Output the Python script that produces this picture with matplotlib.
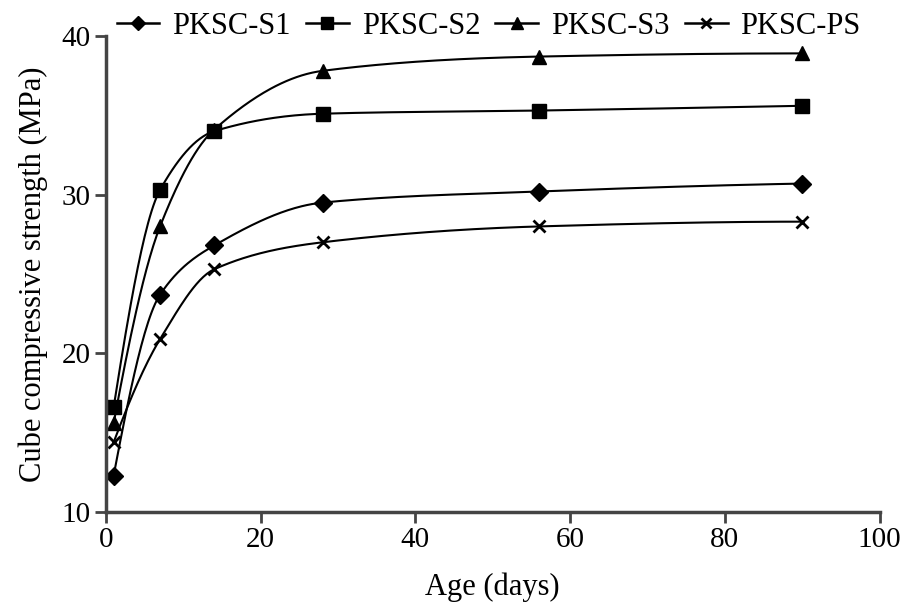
import numpy as np
import matplotlib
matplotlib.use("Agg")
import matplotlib.pyplot as plt
from matplotlib.lines import Line2D

# data
age = [1, 7, 14, 28, 56, 90]
s1 = [12.3, 23.7, 26.8, 29.5, 30.2, 30.7]
s2 = [16.6, 30.3, 34.0, 35.1, 35.3, 35.6]
s3 = [15.6, 28.0, 34.1, 37.8, 38.7, 38.9]
ps = [14.4, 20.9, 25.3, 27.0, 28.0, 28.3]

series = [("PKSC-S1", s1, "D", 9),
          ("PKSC-S2", s2, "s", 10),
          ("PKSC-S3", s3, "^", 10),
          ("PKSC-PS", ps, "x", 9)]


def pchip(x, y, xn):
    # monotone cubic (Fritsch-Carlson) just for a smooth line through the points
    x = np.asarray(x, float)
    y = np.asarray(y, float)
    h = np.diff(x)
    d = np.diff(y) / h
    n = len(x)
    m = np.zeros(n)
    for k in range(1, n - 1):
        if d[k - 1] * d[k] > 0:
            w1 = 2 * h[k] + h[k - 1]
            w2 = h[k] + 2 * h[k - 1]
            m[k] = (w1 + w2) / (w1 / d[k - 1] + w2 / d[k])
    m[0] = ((2 * h[0] + h[1]) * d[0] - h[0] * d[1]) / (h[0] + h[1])
    if np.sign(m[0]) != np.sign(d[0]):
        m[0] = 0
    m[-1] = ((2 * h[-1] + h[-2]) * d[-1] - h[-1] * d[-2]) / (h[-1] + h[-2])
    if np.sign(m[-1]) != np.sign(d[-1]):
        m[-1] = 0
    idx = np.clip(np.searchsorted(x, xn) - 1, 0, n - 2)
    t = (xn - x[idx]) / h[idx]
    h00 = 2 * t**3 - 3 * t**2 + 1
    h10 = t**3 - 2 * t**2 + t
    h01 = -2 * t**3 + 3 * t**2
    h11 = t**3 - t**2
    return h00 * y[idx] + h10 * h[idx] * m[idx] + h01 * y[idx + 1] + h11 * h[idx] * m[idx + 1]


plt.rcParams["font.family"] = ["Liberation Serif", "DejaVu Serif"]

fig = plt.figure(figsize=(9.05, 6.09), dpi=100)
ax = fig.add_axes([0.117, 0.159, 0.855, 0.782])

xs = np.linspace(age[0], age[-1], 400)
handles = []
for name, vals, mk, ms in series:
    ax.plot(xs, pchip(age, vals, xs), color="black", lw=1.5)
    ax.plot(age, vals, ls="none", marker=mk, ms=ms, color="black",
            mew=2 if mk == "x" else 1)
    handles.append(Line2D([], [], color="black", lw=1.8, marker=mk, ms=ms - 2,
                          mew=2 if mk == "x" else 1, label=name))

ax.set_xlim(0, 100)
ax.set_ylim(10, 40)
ax.set_xticks([0, 20, 40, 60, 80, 100])
ax.set_yticks([10, 20, 30, 40])
ax.spines["top"].set_visible(False)
ax.spines["right"].set_visible(False)
for sp in ("left", "bottom"):
    ax.spines[sp].set_linewidth(2.5)
    ax.spines[sp].set_color("#444444")
ax.tick_params(direction="out", length=8, width=2, color="#444444", labelsize=21, pad=3)
ax.set_xlabel("Age (days)", fontsize=22, labelpad=14)
ax.set_ylabel("Cube compressive strength (MPa)", fontsize=22, labelpad=10)

fig.legend(handles=handles, loc="center left", bbox_to_anchor=(0.112, 0.957),
           ncol=4, frameon=False, borderpad=0, handlelength=1.4, handletextpad=0.42,
           columnspacing=0.5, fontsize=22)

fig.savefig("out.png", dpi=100)
